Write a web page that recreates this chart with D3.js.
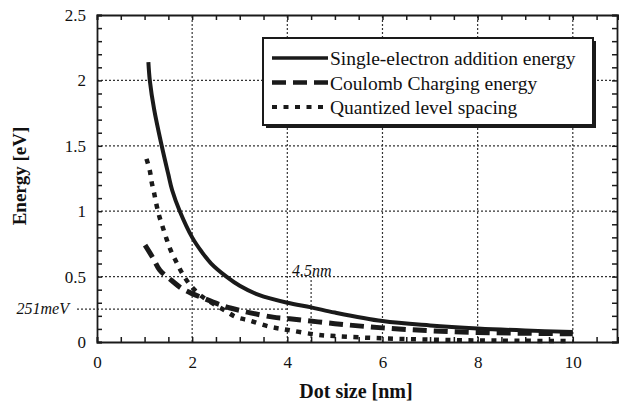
<!DOCTYPE html>
<html>
<head>
<meta charset="utf-8">
<script src="https://cdn.jsdelivr.net/npm/d3@7"></script>
<style>
  body { margin: 0; background: #fff; }
  svg text { font-family: "Liberation Serif", "Times New Roman", Times, "DejaVu Serif", "Noto Serif", serif; fill: #111; }
</style>
</head>
<body>
<div id="container"></div>
<script>
// [dot size nm, energy eV]
const additionEnergy = [
  [1.08, 2.14], [1.11, 2.0], [1.2, 1.78], [1.36, 1.50], [1.5, 1.28], [1.58, 1.16],
  [1.74, 1.0], [2.0, 0.80], [2.2, 0.69], [2.4, 0.60], [2.72, 0.50], [3.0, 0.43],
  [3.4, 0.36], [4.0, 0.30], [4.5, 0.265], [5.0, 0.225], [6.0, 0.16], [7.0, 0.127],
  [8.0, 0.104], [9.0, 0.088], [10.0, 0.077]
];
const coulombEnergy = [
  [1.01, 0.74], [1.18, 0.64], [1.32, 0.55], [1.57, 0.47], [1.78, 0.41], [2.0, 0.37],
  [2.2, 0.34], [2.55, 0.29], [2.8, 0.26], [3.2, 0.225], [3.7, 0.19], [4.0, 0.18],
  [5.0, 0.14], [6.0, 0.108], [7.0, 0.086], [8.0, 0.073], [9.0, 0.067], [10.0, 0.063]
];
const levelSpacing = [
  [1.04, 1.40], [1.11, 1.31], [1.15, 1.22], [1.2, 1.14], [1.25, 1.05], [1.31, 0.96],
  [1.38, 0.88], [1.46, 0.79], [1.55, 0.70], [1.67, 0.61], [1.8, 0.52], [1.97, 0.43],
  [2.2, 0.35], [2.69, 0.24], [2.93, 0.19], [3.2, 0.165], [3.63, 0.117], [4.02, 0.092],
  [4.6, 0.057], [5.0, 0.045], [6.0, 0.028], [7.0, 0.018], [8.0, 0.012], [9.0, 0.009],
  [10.0, 0.007]
];

const xTicks = [0, 2, 4, 6, 8, 10];
const yTicks = [0, 0.5, 1, 1.5, 2, 2.5];
const xGrid = [2, 4, 6, 8, 10];
const yGrid = [0.5, 1, 1.5, 2];
const markerLevel = 0.251;   // 251meV
const markerSize = 4.5;      // 4.5nm

const seriesNames = ["Single-electron addition energy", "Coulomb Charging energy", "Quantized level spacing"];

const width = 619, height = 402;
const margin = {top: 15, right: 1, bottom: 60, left: 97};

const x = d3.scaleLinear().domain([0, 10.95]).range([margin.left, width - margin.right]);
const y = d3.scaleLinear().domain([0, 2.5]).range([height - margin.bottom, margin.top]);

const svg = d3.create("svg").attr("width", width).attr("height", height);

const ink = "#1a1a1a";
const gridStyle = g => g.attr("stroke", "#333").attr("stroke-width", 1.2).attr("stroke-dasharray", "2,2");

// grid
svg.append("g").call(gridStyle)
  .selectAll("line").data(xGrid).join("line")
  .attr("x1", d => x(d)).attr("x2", d => x(d))
  .attr("y1", y(0)).attr("y2", y(2.5));
svg.append("g").call(gridStyle)
  .selectAll("line").data(yGrid).join("line")
  .attr("x1", x(0)).attr("x2", x.range()[1])
  .attr("y1", d => y(d)).attr("y2", d => y(d));

// 251meV and 4.5nm markers
svg.append("line").call(gridStyle)
  .attr("x1", 77).attr("x2", x(4))
  .attr("y1", y(markerLevel)).attr("y2", y(markerLevel));
svg.append("line").call(gridStyle)
  .attr("x1", x(markerSize)).attr("x2", x(markerSize))
  .attr("y1", y(0)).attr("y2", y(0.5));

svg.append("text")
  .attr("x", 69).attr("y", y(markerLevel) + 5)
  .attr("text-anchor", "end")
  .attr("font-style", "italic")
  .attr("font-size", 16)
  .text("251meV");
svg.append("text")
  .attr("x", x(markerSize) - 19).attr("y", y(0.5) - 1)
  .attr("font-style", "italic")
  .attr("font-size", 16)
  .text("4.5nm");

// minor ticks pointing in, on all four sides
const minorX = d3.range(0, 11, 0.5);
const minorY = d3.range(0, 2.51, 0.1);
const frame = svg.append("g");
frame.append("g").attr("transform", `translate(0,${y(0)})`)
  .call(d3.axisBottom(x).tickValues(minorX).tickSize(-5).tickFormat(""));
frame.append("g").attr("transform", `translate(0,${y(2.5)})`)
  .call(d3.axisTop(x).tickValues(minorX).tickSize(-5).tickFormat(""));
frame.append("g").attr("transform", `translate(${x(0)},0)`)
  .call(d3.axisLeft(y).tickValues(minorY).tickSize(-5).tickFormat(""));
frame.append("g").attr("transform", `translate(${x.range()[1] - 1},0)`)
  .call(d3.axisRight(y).tickValues(minorY).tickSize(-5).tickFormat(""));
frame.selectAll("path.domain").attr("stroke", ink).attr("stroke-width", 1.8);
frame.selectAll(".tick line").attr("stroke", ink).attr("stroke-width", 1.5);

// tick labels
const xl = svg.append("g").attr("transform", `translate(0,${y(0)})`)
  .call(d3.axisBottom(x).tickValues(xTicks).tickSize(0).tickPadding(14));
const yl = svg.append("g").attr("transform", `translate(${x(0)},0)`)
  .call(d3.axisLeft(y).tickValues(yTicks).tickSize(0).tickPadding(11).tickFormat(d3.format("")));
[xl, yl].forEach(g => {
  g.select(".domain").remove();
  g.selectAll("text").attr("font-size", 17).attr("font-family", null).attr("fill", "#111");
});

// axis titles
svg.append("text")
  .attr("x", 356).attr("y", 398)
  .attr("text-anchor", "middle")
  .attr("font-weight", "bold").attr("font-size", 20)
  .text("Dot size [nm]");
svg.append("text")
  .attr("transform", "translate(26,176) rotate(-90)")
  .attr("text-anchor", "middle")
  .attr("font-weight", "bold").attr("font-size", 19)
  .text("Energy [eV]");

// curves
const line = d3.line().x(d => x(d[0])).y(d => y(d[1])).curve(d3.curveCatmullRom.alpha(0.5));
const styles = [
  {w: 4, dash: null},
  {w: 5, dash: "14,7"},
  {w: 4.5, dash: "5,6.5"}
];
[additionEnergy, coulombEnergy, levelSpacing].forEach((data, i) => {
  svg.append("path")
    .datum(data)
    .attr("fill", "none")
    .attr("stroke", ink)
    .attr("stroke-width", styles[i].w)
    .attr("stroke-dasharray", styles[i].dash)
    .attr("d", line);
});

// legend
const lg = svg.append("g").attr("transform", "translate(263,38)");
lg.append("rect").attr("x", 3).attr("y", 3).attr("width", 330).attr("height", 87).attr("fill", ink);
lg.append("rect").attr("width", 330).attr("height", 87)
  .attr("fill", "#fff").attr("stroke", ink).attr("stroke-width", 2);
seriesNames.forEach((name, i) => {
  const ry = 20 + i * 24.5;
  lg.append("line")
    .attr("x1", 9).attr("x2", 65).attr("y1", ry).attr("y2", ry)
    .attr("stroke", ink).attr("stroke-width", styles[i].w - 0.5)
    .attr("stroke-dasharray", styles[i].dash);
  lg.append("text")
    .attr("x", 67).attr("y", ry + 7)
    .attr("font-size", 19.5)
    .text(name);
});

container.append(svg.node());
</script>
</body>
</html>
